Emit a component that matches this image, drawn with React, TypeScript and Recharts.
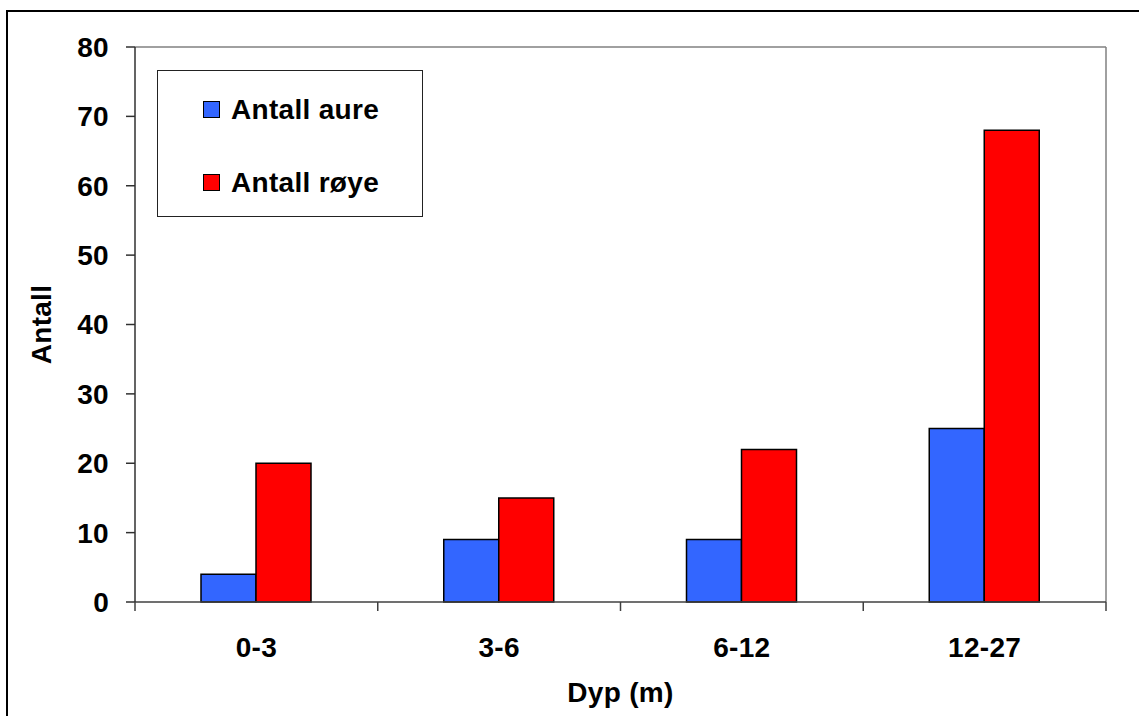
import React from "react";
import {
  BarChart,
  Bar,
  XAxis,
  YAxis,
  CartesianGrid,
  Legend,
} from "recharts";

const depths = ["0-3", "3-6", "6-12", "12-27"];
const aure = [4, 9, 9, 25];
const roye = [20, 15, 22, 68];
const yTicks = [0, 10, 20, 30, 40, 50, 60, 70, 80];

const FONT = '"Liberation Sans", Arial, Helvetica, sans-serif';
const FS = 28;
const LS = 0.3;
const BLUE = "#3366FF";
const RED = "#FF0000";

const data = depths.map((d, i) => ({ depth: d, aure: aure[i], roye: roye[i] }));

// category labels sit mid-band, tick marks sit on the band edges (Excel style)
function DepthTick(props: any) {
  const { x, y, payload, index, visibleTicksCount } = props;
  const half = payload.offset ?? 121;
  return (
    <g>
      <line x1={x - half} x2={x - half} y1={y} y2={y + 9} stroke="#404040" strokeWidth={1.5} />
      {index === visibleTicksCount - 1 && (
        <line x1={x + half} x2={x + half} y1={y} y2={y + 9} stroke="#404040" strokeWidth={1.5} />
      )}
      <text x={x} y={y + 55} textAnchor="middle" fontFamily={FONT} fontWeight="bold" fontSize={FS} letterSpacing={LS} fill="#000">
        {payload.value}
      </text>
    </g>
  );
}

function LegendBox({ payload }: any) {
  return (
    <div
      style={{
        width: 266,
        height: 147,
        boxSizing: "border-box",
        border: "1.5px solid #222",
        background: "#fff",
        position: "relative",
      }}
    >
      {(payload || []).map((p: any, i: number) => (
        <div
          key={p.value}
          style={{
            position: "absolute",
            left: 45,
            top: 30 + i * 73,
            display: "flex",
            alignItems: "center",
            height: 17,
          }}
        >
          <span
            style={{
              width: 17,
              height: 17,
              boxSizing: "border-box",
              border: "1.5px solid #000",
              background: p.color,
              display: "inline-block",
            }}
          />
          <span
            style={{
              marginLeft: 11,
              fontFamily: FONT,
              fontWeight: "bold",
              fontSize: FS,
              letterSpacing: LS,
              lineHeight: "17px",
              color: "#000",
              whiteSpace: "nowrap",
            }}
          >
            {p.value}
          </span>
        </div>
      ))}
    </div>
  );
}

function AntallLabel(props: any) {
  const vb = props.viewBox || { x: 0, y: 0, width: 135, height: 555 };
  const cx = vb.x + 41;
  const cy = vb.y + vb.height / 2;
  return (
    <text
      x={cx}
      y={cy}
      transform={`rotate(-90, ${cx}, ${cy})`}
      textAnchor="middle"
      dominantBaseline="central"
      fontFamily={FONT}
      fontWeight="bold"
      fontSize={FS}
      letterSpacing={LS}
      fill="#000"
    >
      Antall
    </text>
  );
}

export default function App() {
  return (
    <div
      style={{
        position: "fixed",
        left: 0,
        top: 0,
        width: 1139,
        height: 716,
        overflow: "hidden",
        background: "#fff",
      }}
    >
      <div
        style={{
          position: "absolute",
          left: 6,
          top: 10,
          width: 1300,
          height: 900,
          borderTop: "2px solid #000",
          borderLeft: "2px solid #000",
        }}
      />
      <div style={{ position: "absolute", left: 0, top: 0 }}>
        <BarChart
          width={1139}
          height={716}
          data={data}
          margin={{ top: 47, right: 33, left: 0, bottom: 0 }}
          barGap={0}
        >
          <CartesianGrid
            stroke="#808080"
            strokeWidth={1.5}
            horizontalCoordinatesGenerator={({ offset }: any) => [offset.top]}
            verticalCoordinatesGenerator={({ offset }: any) => [offset.left + offset.width]}
          />
          <XAxis
            dataKey="depth"
            height={114}
            stroke="#404040"
            strokeWidth={1.5}
            tickLine={false}
            tickSize={0}
            tickMargin={0}
            interval={0}
            tick={<DepthTick />}
            label={{ value: "Dyp (m)", position: "insideBottom", offset: 14, fontFamily: FONT, fontWeight: "bold", fontSize: FS, letterSpacing: LS, fill: "#000" }}
          />
          <YAxis
            width={135}
            domain={[0, 80]}
            ticks={yTicks}
            interval={0}
            stroke="#303030"
            strokeWidth={1.5}
            tickSize={9}
            tickMargin={17}
            tick={{ fontFamily: FONT, fontWeight: "bold", fontSize: FS, letterSpacing: LS, fill: "#000" }}
            label={<AntallLabel />}
          />
          <Legend
            layout="vertical"
            verticalAlign="middle"
            align="center"
            wrapperStyle={{ left: 157, top: 70, width: 266 }}
            content={<LegendBox />}
          />
          <Bar dataKey="aure" name="Antall aure" fill={BLUE} stroke="#000" strokeWidth={1.5} barSize={55} isAnimationActive={false} />
          <Bar dataKey="roye" name="Antall røye" fill={RED} stroke="#000" strokeWidth={1.5} barSize={55} isAnimationActive={false} />
        </BarChart>
      </div>
    </div>
  );
}
